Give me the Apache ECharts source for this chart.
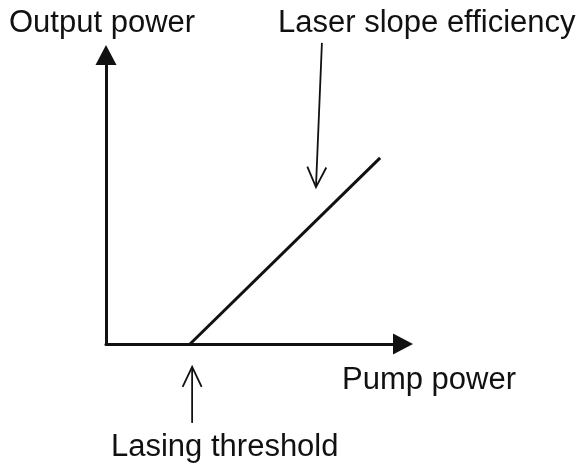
<!DOCTYPE html>
<html><head><meta charset="utf-8">
<script src="https://cdn.jsdelivr.net/npm/echarts@6/dist/echarts.min.js"></script>
<style>html,body{margin:0;padding:0;background:#fff}#c{width:583px;height:469px}</style>
</head><body><div id="c"></div>
<script>
// Axis ranges (arbitrary units)
const xRange = [0, 100];
const yRange = [0, 100];
// Output power vs pump power: zero below threshold, linear above
const pumpPower = [28.3, 92.3];
const outputPower = [0, 64.4];
// Pointer arrows: [fromX, fromY, toX, toY]
const pointerSlope = [72.7, 104.2, 70.7, 54.3];
const pointerThreshold = [29.0, -27.3, 29.0, -7.9];
// Text labels
const labels = ['Output power', 'Laser slope efficiency', 'Pump power', 'Lasing threshold'];

const chart = echarts.init(document.getElementById('c'));
const ink = '#111';
const font = '"Liberation Sans", Arial, sans-serif';
function txt(t, x, y) {
  return { type: 'text', left: x, top: y, style: { text: t, fill: ink, font: '31px ' + font } };
}
chart.setOption({
  animation: false,
  grid: { left: 106, top: 55, right: 180, bottom: 125 },
  xAxis: {
    type: 'value', min: xRange[0], max: xRange[1],
    axisLabel: { show: false }, axisTick: { show: false }, splitLine: { show: false },
    axisLine: { show: true, lineStyle: { color: ink, width: 3 }, symbol: ['none', 'triangle'], symbolSize: [21, 20] }
  },
  yAxis: {
    type: 'value', min: yRange[0], max: yRange[1],
    axisLabel: { show: false }, axisTick: { show: false }, splitLine: { show: false },
    axisLine: { show: true, lineStyle: { color: ink, width: 3 }, symbol: ['none', 'triangle'], symbolSize: [21, 20] }
  },
  series: [
    {
      type: 'line', symbol: 'none', lineStyle: { color: ink, width: 3 },
      data: pumpPower.map((x, i) => [x, outputPower[i]])
    },
    {
      type: 'custom', clip: false,
      data: [pointerSlope, pointerThreshold],
      renderItem: function (params, api) {
        const a = api.coord([api.value(0), api.value(1)]);
        const b = api.coord([api.value(2), api.value(3)]);
        const dx = b[0] - a[0], dy = b[1] - a[1];
        const len = Math.sqrt(dx * dx + dy * dy);
        const ux = dx / len, uy = dy / len;
        const hl = 20, hw = 9.5;
        const w1 = [b[0] - ux * hl - uy * hw, b[1] - uy * hl + ux * hw];
        const w2 = [b[0] - ux * hl + uy * hw, b[1] - uy * hl - ux * hw];
        const st = { stroke: ink, lineWidth: 1.8, fill: null };
        return {
          type: 'group', children: [
            { type: 'line', shape: { x1: a[0], y1: a[1], x2: b[0], y2: b[1] }, style: st },
            { type: 'polyline', shape: { points: [w1, b, w2] }, style: st }
          ]
        };
      }
    }
  ],
  graphic: [
    txt(labels[0], 9, 8),
    txt(labels[1], 278, 8),
    txt(labels[2], 342, 365),
    txt(labels[3], 111, 432)
  ]
});
</script></body></html>
